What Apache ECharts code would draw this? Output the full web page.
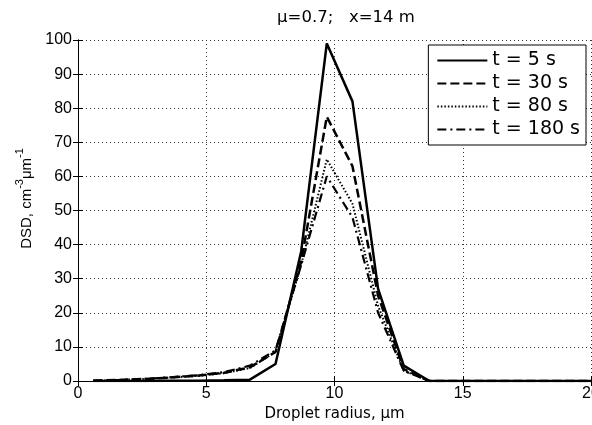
<!DOCTYPE html>
<html>
<head>
<meta charset="utf-8">
<script src="https://cdn.jsdelivr.net/npm/echarts@6/dist/echarts.min.js"></script>
<style>html,body{margin:0;padding:0;background:#fff}#c{width:592px;height:425px}</style>
</head>
<body>
<div id="c"></div>
<script>
var radius = [0.6,1.6,2.6,3.6,4.7,5.7,6.7,7.7,8.7,9.7,10.7,11.7,12.7,13.7,14.7,15.7,16.7,17.7,18.7,19.7,20];
var t5   = [0,0,0,0.1,0.1,0.2,0.4,5,38,99,82,27,4.5,0,0,0,0,0,0,0,0];
var t30  = [0.1,0.3,0.6,1.0,1.6,2.4,4,8.5,35,77.5,63,25,3.5,0,0,0,0,0,0,0,0];
var t80  = [0.1,0.3,0.6,1.0,1.5,2.3,3.8,8.5,34,65,52,22,3,0,0,0,0,0,0,0,0];
var t180 = [0.1,0.3,0.6,1.1,1.7,2.6,4.5,9,34,60,48,20,3,0,0,0,0,0,0,0,0];
var names = ['t = 5 s','t = 30 s','t = 80 s','t = 180 s'];
var xTicks = [0,5,10,15,20];
var yTicks = [0,10,20,30,40,50,60,70,80,90,100];

function pairs(ys){ return radius.map(function(x,i){return [x, ys[i]];}); }
var FF = '"Liberation Sans", Arial, sans-serif';
var FW = '"DejaVu Sans", sans-serif';
var styles = [
  {type:'solid', width:2.5},
  {type:[9,4], width:2.5},
  {type:[1.5,2], width:2},
  {type:[9,4,2,4], width:2.2}
];
var data = [t5,t30,t80,t180];
var series = data.map(function(d,i){
  return {name:names[i], type:'line', data:pairs(d), symbol:'none', showSymbol:false,
    lineStyle:{color:'#000', width:styles[i].width, type:styles[i].type}, itemStyle:{color:'#000'},
    animation:false, z:3+i};
});
var chart = echarts.init(document.getElementById('c'), null, {renderer:'canvas'});
var splitLine = {show:true, lineStyle:{color:'#333', type:[1,3], width:1}};
chart.setOption({
  backgroundColor:'#fff',
  animation:false,
  title:{text:'\u03bc=0.7;   x=14 m', left:341, top:4, textAlign:'center',
    textStyle:{fontFamily:FW, fontSize:16.5, fontWeight:'normal', color:'#000'}},
  grid:{left:78, right:1, top:40, bottom:44, outerBoundsMode:'none', containLabel:false},
  legend:{show:true, data:names, right:6, top:45, orient:'vertical', itemWidth:50, itemHeight:14, itemGap:4,
    backgroundColor:'#fff', borderColor:'#000', borderWidth:1, padding:[6,6,6,8],
    itemStyle:{color:'rgba(0,0,0,0)', borderWidth:0, opacity:0},
    textStyle:{fontFamily:FW, fontSize:19, color:'#000'}, z:10},
  xAxis:[{type:'value', min:0, max:20, interval:5, position:'bottom',
    name:'Droplet radius, \u03bcm', nameLocation:'middle', nameGap:22,
    nameTextStyle:{fontFamily:FW, fontSize:15, color:'#000'},
    axisLine:{lineStyle:{color:'#000', width:1}},
    axisTick:{inside:true, length:5, lineStyle:{color:'#000'}},
    axisLabel:{fontFamily:FF, fontSize:16, color:'#000', margin:5,
      formatter:function(v){return xTicks.indexOf(v)>=0 ? String(v) : '';}},
    splitLine:splitLine},
   {type:'value', min:0, max:20, interval:5, position:'top',
    axisLine:{lineStyle:{color:'#000', width:1}},
    axisTick:{inside:true, length:5, lineStyle:{color:'#000'}},
    axisLabel:{show:false}, splitLine:{show:false}}],
  yAxis:[{type:'value', min:0, max:100, interval:10, position:'left',
    name:'{a|DSD, cm}{s|-3}{a|\u03bcm}{s|-1}', nameLocation:'middle', nameGap:40, nameRotate:90,
    nameTextStyle:{fontFamily:FF, fontSize:15, color:'#000', padding:[0,0,0,24],
      rich:{a:{fontFamily:FF, fontSize:15, color:'#000', verticalAlign:'bottom', lineHeight:20},
            s:{fontFamily:FF, fontSize:11, color:'#000', verticalAlign:'top', lineHeight:20}}},
    axisLine:{lineStyle:{color:'#000', width:1}},
    axisTick:{inside:true, length:5, lineStyle:{color:'#000'}},
    axisLabel:{fontFamily:FF, fontSize:16, color:'#000', margin:6,
      formatter:function(v){return yTicks.indexOf(v)>=0 ? String(v) : '';}},
    splitLine:splitLine},
   {type:'value', min:0, max:100, interval:10, position:'right',
    axisLine:{show:true, lineStyle:{color:'#000', width:1}},
    axisTick:{inside:true, length:5, lineStyle:{color:'#000'}},
    axisLabel:{show:false}, splitLine:{show:false}}],
  series:series
});
</script>
</body>
</html>
